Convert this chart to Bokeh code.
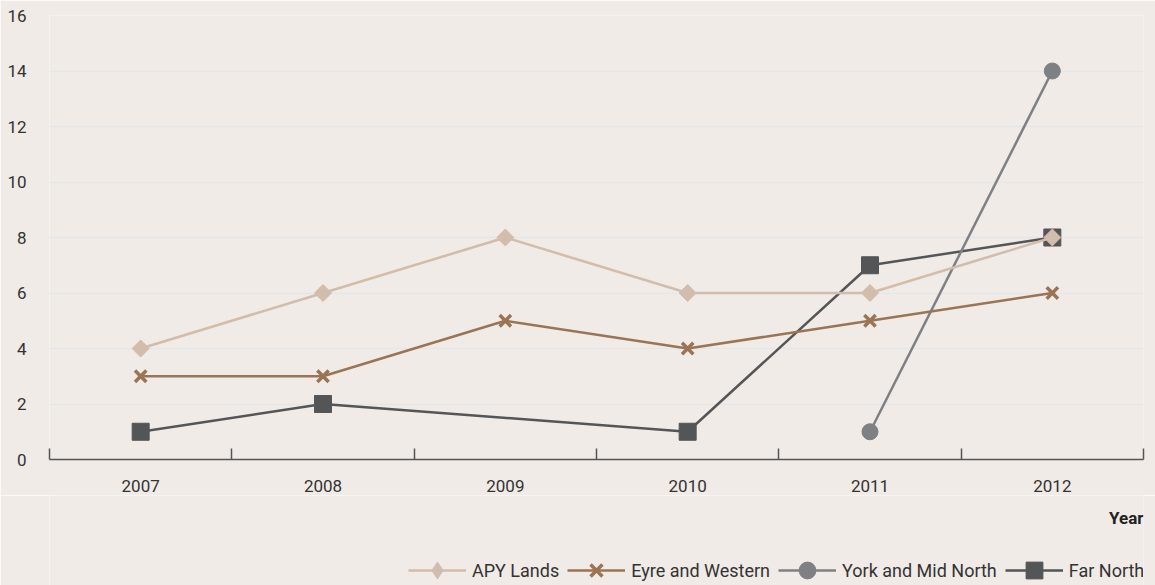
import math
from bokeh.plotting import figure
from bokeh.layouts import column
from bokeh.models import (Range1d, FixedTicker, Legend, LegendItem, Label, ColumnDataSource)
from bokeh.embed import file_html
from bokeh.resources import INLINE

years = [2007, 2008, 2009, 2010, 2011, 2012]
year_labels = ["2007", "2008", "2009", "2010", "2011", "2012"]

apy_years = [2007, 2008, 2009, 2010, 2011, 2012]
apy_values = [4, 6, 8, 6, 6, 8]

eyre_years = [2007, 2008, 2009, 2010, 2011, 2012]
eyre_values = [3, 3, 5, 4, 5, 6]

york_years = [2011, 2012]
york_values = [1, 14]

far_years = [2007, 2008, 2010, 2011, 2012]
far_values = [1, 2, 1, 7, 8]

y_ticks = [0, 2, 4, 6, 8, 10, 12, 14, 16]

FONT = "Roboto"
BG = "#f0ebe7"
TXT = "#333333"

p = figure(width=1155, height=495, output_backend="svg", toolbar_location=None,
           x_range=Range1d(2006.5, 2012.5), y_range=Range1d(0, 16),
           min_border_left=49, min_border_right=12, min_border_top=15, min_border_bottom=36)
p.background_fill_color = BG
p.border_fill_color = BG
p.outline_line_color = None

xa = p.xaxis[0]
xa.ticker = FixedTicker(ticks=years, minor_ticks=[2006.5 + i for i in range(7)])
xa.major_label_overrides = {y: l for y, l in zip(years, year_labels)}
xa.major_tick_line_color = None
xa.minor_tick_in = 11
xa.minor_tick_out = 0
xa.minor_tick_line_color = "#555555"
xa.minor_tick_line_width = 1.5
xa.axis_line_color = "#555555"
xa.axis_line_width = 1.5
xa.major_label_text_font = FONT
xa.major_label_text_font_size = "17px"
xa.major_label_text_color = TXT
xa.major_label_standoff = 14

ya = p.yaxis[0]
ya.ticker = FixedTicker(ticks=y_ticks)
ya.axis_line_color = None
ya.major_tick_line_color = None
ya.minor_tick_line_color = None
ya.major_label_text_font = FONT
ya.major_label_text_font_size = "17px"
ya.major_label_text_color = TXT
ya.major_label_standoff = 17

p.xgrid.grid_line_color = None
p.ygrid.ticker = FixedTicker(ticks=y_ticks)
p.ygrid.grid_line_color = "#e4e6e8"
p.ygrid.grid_line_width = 1.5

series = [
    ("APY Lands", apy_years, apy_values, "#d2bcab", "diamond"),
    ("Eyre and Western", eyre_years, eyre_values, "#9b7455", "x"),
    ("York and Mid North", york_years, york_values, "#7f8083", "circle"),
    ("Far North", far_years, far_values, "#545557", "square"),
]


def add_series(fig, xs, ys, color, marker, legend_glyph=False):
    src = ColumnDataSource(dict(x=xs, y=ys))
    l = fig.line("x", "y", source=src, line_color=color, line_width=2.5)
    if marker == "diamond":
        if legend_glyph:
            m = fig.scatter("x", "y", source=src, marker="diamond", size=17,
                            fill_color=color, line_color=color)
        else:
            m = fig.scatter("x", "y", source=src, marker="square", size=12, angle=math.pi / 4,
                            fill_color=color, line_color=color)
    elif marker == "x":
        m = fig.scatter("x", "y", source=src, marker="x", size=16, line_color=color, line_width=3.5)
    elif marker == "circle":
        m = fig.scatter("x", "y", source=src, marker="circle", size=16, fill_color=color, line_color=color)
    else:
        m = fig.scatter("x", "y", source=src, marker="square", size=17, fill_color=color, line_color=color)
    return [l, m]


for name, xs, ys, color, marker in reversed(series):
    add_series(p, xs, ys, color, marker)

# lower strip: "Year" label and legend (frame aligned with the chart frame: 49..1143 px)
p2 = figure(width=1155, height=90, output_backend="svg", toolbar_location=None,
            x_range=Range1d(49, 1143), y_range=Range1d(90, 0),
            min_border_left=49, min_border_right=12, min_border_top=0, min_border_bottom=0)
p2.background_fill_color = BG
p2.border_fill_color = BG
p2.outline_line_color = None
p2.axis.visible = False
p2.grid.grid_line_color = None

legend_items = []
for name, xs, ys, color, marker in series:
    rs = add_series(p2, [float("nan")], [float("nan")], color, marker, legend_glyph=True)
    legend_items.append(LegendItem(label=name, renderers=rs))

legend = Legend(items=legend_items, orientation="horizontal", location=(359, -6))
legend.background_fill_alpha = 0
legend.border_line_color = None
legend.label_text_font = FONT
legend.label_text_font_size = "18px"
legend.label_text_color = TXT
legend.glyph_width = 58
legend.glyph_height = 42
legend.spacing = 8
legend.label_standoff = 6
legend.padding = 0
legend.margin = 0
legend.label_height = 20
p2.add_layout(legend)

p2.add_layout(Label(x=1143, y=22, text="Year", text_align="right", text_baseline="middle",
                    text_font=FONT, text_font_size="17px", text_font_style="bold",
                    text_color="#222222"))

layout = column(p, p2, spacing=0)
open("out.html", "w").write(file_html(layout, INLINE))
